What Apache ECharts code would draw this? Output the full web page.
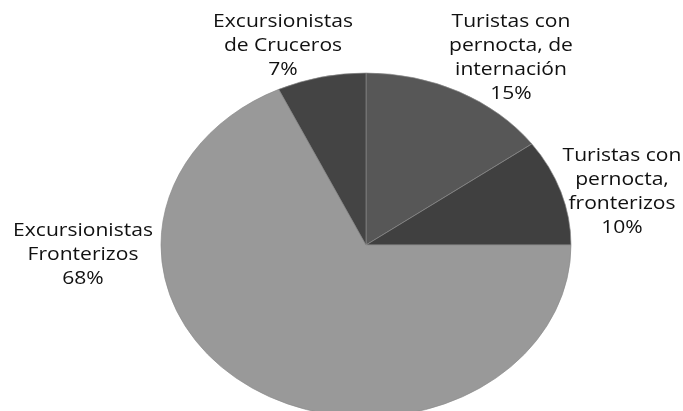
<!DOCTYPE html>
<html>
<head>
<meta charset="utf-8">
<script src="https://cdn.jsdelivr.net/npm/echarts@6/dist/echarts.min.js"></script>
<style>
  html, body { margin: 0; padding: 0; background: #fff; }
  #chart { width: 683px; height: 411px; }
</style>
</head>
<body>
<div id="chart"></div>
<script>
  // data
  var categories = [
    'Turistas con\npernocta, de\ninternación',
    'Turistas con\npernocta,\nfronterizos',
    'Excursionistas\nFronterizos',
    'Excursionistas\nde Cruceros'
  ];
  var percents = [15, 10, 68, 7];

  // look
  var colors = ['#575757', '#404040', '#999999', '#444444'];
  var labelPos = [[511, 58], [622, 192], [83, 255], [283, 46]];
  var center = [366, 245];
  var radiusY = 172;
  var stretchX = 205 / 172;

  var total = percents.reduce(function (a, b) { return a + b; }, 0);
  var starts = [];
  var acc = 0;
  percents.forEach(function (v) { starts.push(acc); acc += v; });

  var myChart = echarts.init(document.getElementById('chart'));
  myChart.setOption({
    animation: false,
    series: [{
      type: 'custom',
      coordinateSystem: 'none',
      data: percents.map(function (v, i) { return [v, i]; }),
      renderItem: function (params, api) {
        var i = params.dataIndex;
        var v = api.value(0);
        var a0 = -Math.PI / 2 + starts[i] / total * Math.PI * 2;
        var a1 = a0 + v / total * Math.PI * 2;
        return {
          type: 'group',
          children: [{
            type: 'sector',
            shape: { cx: center[0], cy: center[1], r: radiusY, r0: 0, startAngle: a0, endAngle: a1, clockwise: true },
            originX: center[0],
            originY: center[1],
            scaleX: stretchX,
            style: { fill: colors[i], stroke: '#8a8a8a', lineWidth: 0.6 }
          }, {
            type: 'text',
            x: labelPos[i][0],
            y: labelPos[i][1],
            scaleX: 1.17,
            style: {
              text: categories[i] + '\n' + v + '%',
              fill: '#111',
              font: '18px "Open Sans"',
              lineHeight: 24,
              align: 'center',
              verticalAlign: 'middle'
            }
          }]
        };
      }
    }]
  });
</script>
</body>
</html>
